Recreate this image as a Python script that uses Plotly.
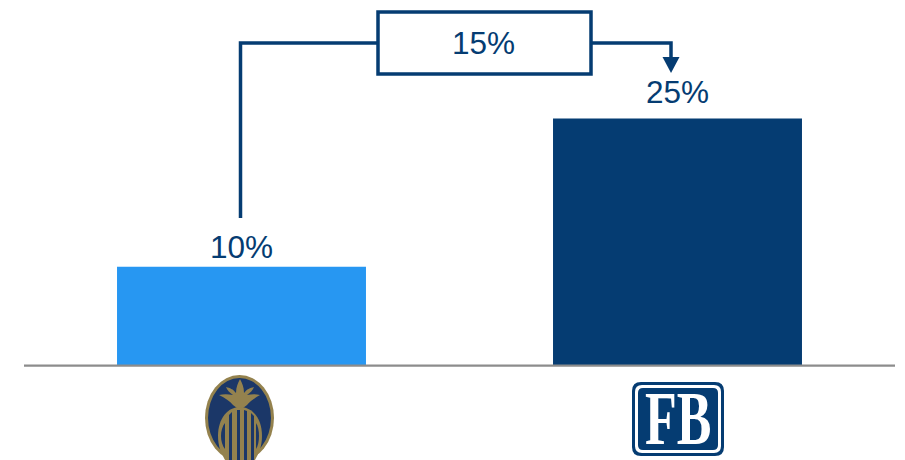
import plotly.graph_objects as go

# Bar chart data
categories = ["Pineapple bank", "FB"]
values = [10, 25]
bar_colors = ["#2797F2", "#053C72"]
label_offsets = [20, 27]
difference_label = "15%"
logo_text = "FB"

NAVY = "#053C72"
GOLD = "#94824E"
LOGO_NAVY = "#1B3768"
W, H = 905, 460


def ellipse(cx, cy, rx, ry, color):
    return dict(type="circle", xref="x2", yref="y2", x0=cx - rx, x1=cx + rx,
                y0=cy - ry, y1=cy + ry, fillcolor=color, line_width=0, layer="above")


def path(d, fill=None, line=None, width=0):
    shape = dict(type="path", xref="x2", yref="y2", path=d, layer="above")
    if fill:
        shape["fillcolor"] = fill
    shape["line"] = dict(color=line or "rgba(0,0,0,0)", width=width)
    return shape


def rounded(x0, y0, x1, y1, r, color):
    d = (f"M{x0+r},{y0} L{x1-r},{y0} Q{x1},{y0} {x1},{y0+r} L{x1},{y1-r} Q{x1},{y1} {x1-r},{y1} "
         f"L{x0+r},{y1} Q{x0},{y1} {x0},{y1-r} L{x0},{y0+r} Q{x0},{y0} {x0+r},{y0} Z")
    return path(d, fill=color)


fig = go.Figure(go.Bar(
    x=categories, y=values, width=0.571,
    marker=dict(color=bar_colors, line_width=0),
    hoverinfo="skip",
))

shapes = [
    # baseline under the bars
    path("M24,365.6 L895,365.6", line="#8C8C8C", width=2.4),
    # connector between the two bars
    path("M240.5,218 L240.5,43 L378,43", line=NAVY, width=3.5),
    path("M591,43 L671,43 L671,60", line=NAVY, width=3.5),
    path("M662.5,57 L679.5,57 L671,73 Z", fill=NAVY),
    dict(type="rect", xref="x2", yref="y2", x0=378, x1=591, y0=12, y1=74,
         line=dict(color=NAVY, width=3.5), fillcolor="white", layer="above"),
    # pineapple emblem
    ellipse(239.5, 418, 34.5, 43, GOLD),
    ellipse(239.5, 418, 31.5, 40, LOGO_NAVY),
    path("M240,379 C242,383 244,387 244,393 C247,389 250,388 254,387 C253,390 250,393 247,395 "
         "C252,394 256,394 260,395 C255,398 250,401 247,405 L243,408 L237,408 L233,405 "
         "C230,401 225,398 219,395 C223,394 228,394 233,395 C230,393 227,390 226,387 "
         "C230,388 233,389 236,393 C236,387 238,383 240,379 Z", fill=GOLD),
    path("M218,436 C218,418 228,407 240,407 C252,407 262,418 262,436 "
         "C262,446 259,453 255,460 L225,460 C221,453 218,446 218,436 Z", fill=GOLD),
    path("M221,436 C221,431 222.5,426 225,423 L225,449 C222.5,446 221,441 221,436 Z", fill=LOGO_NAVY),
    path("M229,415 L232,412 L232,460 L229,460 Z", fill=LOGO_NAVY),
    path("M237,410 L240,410 L240,460 L237,460 Z", fill=LOGO_NAVY),
    path("M244,410 L247,411 L247,460 L244,460 Z", fill=LOGO_NAVY),
    path("M251,413 L254,416 L254,460 L251,460 Z", fill=LOGO_NAVY),
    path("M259,436 C259,431 258,426 256,423 L256,449 C258,446 259,441 259,436 Z", fill=LOGO_NAVY),
    # FB emblem frame
    rounded(632, 382, 724, 456, 9, NAVY),
    rounded(635, 385, 721, 453, 7, "white"),
    rounded(638, 388, 718, 450, 5, NAVY),
]

annotations = [
    dict(text=f"{v}%", x=c, y=v, xref="x", yref="y", yshift=s, showarrow=False,
         font=dict(family="Liberation Sans", size=31.5, color=NAVY))
    for c, v, s in zip(categories, values, label_offsets)
] + [
    dict(text=difference_label, xref="x2", yref="y2", x=483.5, y=43, showarrow=False,
         font=dict(family="Liberation Sans", size=31.5, color=NAVY)),
    dict(text=logo_text, xref="x2", yref="y2", x=678, y=418, showarrow=False,
         font=dict(family="Liberation Serif", size=52, color="white", weight="bold")),
]

fig.update_layout(
    width=W, height=H, margin=dict(l=0, r=0, t=0, b=0),
    paper_bgcolor="white", plot_bgcolor="rgba(0,0,0,0)", showlegend=False, autosize=False,
    xaxis=dict(domain=[23.5 / W, 895.5 / W], range=[-0.5, 1.5], showticklabels=False,
               ticks="", showgrid=False, zeroline=False, showline=False, anchor="y"),
    yaxis=dict(domain=[94.3 / H, 1], range=[0, 37.0], visible=False, anchor="x"),
    xaxis2=dict(domain=[0, 1], range=[0, W], visible=False, anchor="y2"),
    yaxis2=dict(domain=[0, 1], range=[H, 0], visible=False, anchor="x2"),
    shapes=shapes, annotations=annotations,
)

# A hidden trace keeps the page-wide axes active for the connector and emblems.
fig.add_trace(go.Scatter(x=[0], y=[0], xaxis="x2", yaxis="y2", mode="markers",
                         marker=dict(opacity=0), hoverinfo="skip"))

# Narrow the FB lettering to the proportions of the emblem.
stretch = """
document.querySelectorAll('.annotation-text').forEach(function (t) {
  if (t.textContent === 'FB') {
    var b = t.getBBox(), cx = b.x + b.width / 2, cy = b.y + b.height / 2;
    t.setAttribute('transform', 'translate(' + cx + ',' + cy + ') scale(1,1.45) translate(' + (-cx) + ',' + (-cy) + ')');
  }
});
"""
fig.write_html("out.html", post_script=stretch, config={"displayModeBar": False})
